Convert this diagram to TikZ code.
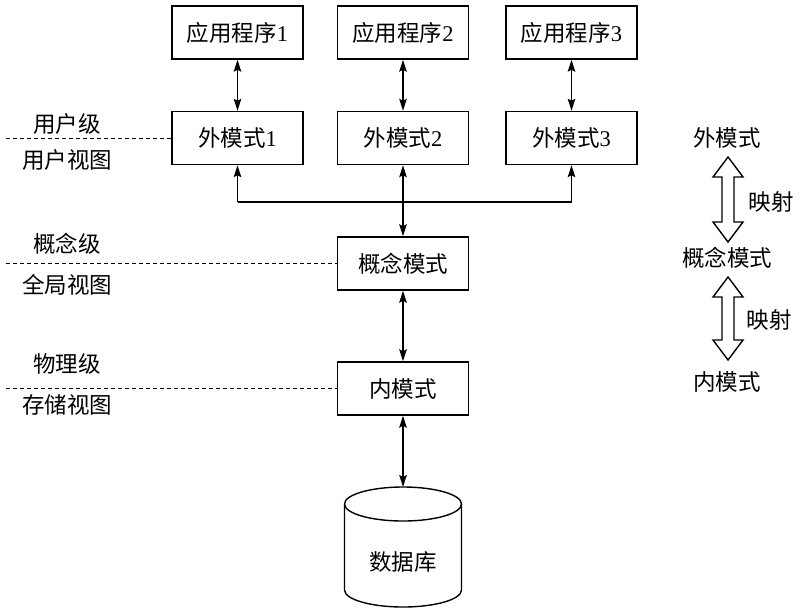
\documentclass[tikz,border=0pt]{standalone}
\usepackage{fontspec}
\setmainfont{Liberation Serif}
\newfontfamily\cjk{Noto Sans CJK SC}
\usetikzlibrary{arrows.meta}
\begin{document}
\begin{tikzpicture}[x=1pt,y=-1pt,
  every node/.style={font=\fontsize{22.5}{25}\selectfont},
  boxnode/.style={draw,line width=1.4pt,minimum width=131pt,minimum height=53pt,inner sep=0pt},
  lbl/.style={inner sep=0pt},
  conn/.style={line width=1.4pt,{Stealth[length=12pt,width=7.5pt,inset=2pt]}-{Stealth[length=12pt,width=7.5pt,inset=2pt]}},
  oneway/.style={line width=1.4pt,-{Stealth[length=12pt,width=7.5pt,inset=2pt]}},
  dline/.style={line width=0.9pt,dash pattern=on 4pt off 3pt},
  hollow/.style={draw,line width=1.4pt,fill=white,line join=miter}
]
\useasboundingbox (0,0) rectangle (800,614);

% application boxes
\node[boxnode] (a1) at (237.5,32.5) {{\cjk 应用程序}1};
\node[boxnode] (a2) at (403,32.5) {{\cjk 应用程序}2};
\node[boxnode] (a3) at (571.5,32.5) {{\cjk 应用程序}3};
% external schemas
\node[boxnode] (e1) at (237.5,138) {{\cjk 外模式}1};
\node[boxnode] (e2) at (403,138) {{\cjk 外模式}2};
\node[boxnode] (e3) at (571.5,138) {{\cjk 外模式}3};
% conceptual and internal
\node[boxnode] (c) at (403,263.5) {\cjk 概念模式};
\node[boxnode] (in) at (403,388.5) {\cjk 内模式};

% database cylinder
\coordinate (dbtop) at (403,487);
\draw[line width=1.4pt] (344.5,504) -- (344.5,590)
  arc[start angle=180,end angle=0,x radius=58.5,y radius=17] -- (461.5,504);
\draw[line width=1.4pt] (403,504) ellipse[x radius=58.5,y radius=17];
\node[lbl] (db) at (403,562) {\cjk 数据库};

% connectors
\draw[conn] (a1.south) -- (e1.north);
\draw[conn] (a2.south) -- (e2.north);
\draw[conn] (a3.south) -- (e3.north);
\draw[conn] (e2.south) -- (c.north);
\coordinate (j1) at (237.5,202);
\coordinate (j3) at (571.5,202);
\draw[line width=1.4pt] (j1) -- (j3);
\draw[oneway] (j1) -- (e1.south);
\draw[oneway] (j3) -- (e3.south);
\draw[conn] (c.south) -- (in.north);
\draw[conn] (in.south) -- (dbtop);

% left level labels
\node[lbl] (l1a) at (67,124) {\cjk 用户级};
\node[lbl] (l1b) at (67,160) {\cjk 用户视图};
\node[lbl] (l2a) at (67,244) {\cjk 概念级};
\node[lbl] (l2b) at (67,285) {\cjk 全局视图};
\node[lbl] (l3a) at (67,364) {\cjk 物理级};
\node[lbl] (l3b) at (67,405) {\cjk 存储视图};
\coordinate (d1) at (6,138);
\coordinate (d2) at (6,263.5);
\coordinate (d3) at (6,388.5);
\draw[dline] (d1) -- (e1.west);
\draw[dline] (d2) -- (c.west);
\draw[dline] (d3) -- (in.west);

% right side mapping
\node[lbl] (r1) at (727,138) {\cjk 外模式};
\node[lbl] (r2) at (727,258) {\cjk 概念模式};
\node[lbl] (r3) at (727,382) {\cjk 内模式};
\node[lbl] (m1) at (771,202) {\cjk 映射};
\node[lbl] (m2) at (769,320) {\cjk 映射};
\draw[hollow] (728,157) -- (743,177) -- (734,177) -- (734,222) -- (743,222) -- (728,242)
  -- (713,222) -- (722,222) -- (722,177) -- (713,177) -- cycle;
\draw[hollow] (728,277) -- (743,297) -- (734,297) -- (734,340) -- (743,340) -- (728,360)
  -- (713,340) -- (722,340) -- (722,297) -- (713,297) -- cycle;
\end{tikzpicture}
\end{document}
